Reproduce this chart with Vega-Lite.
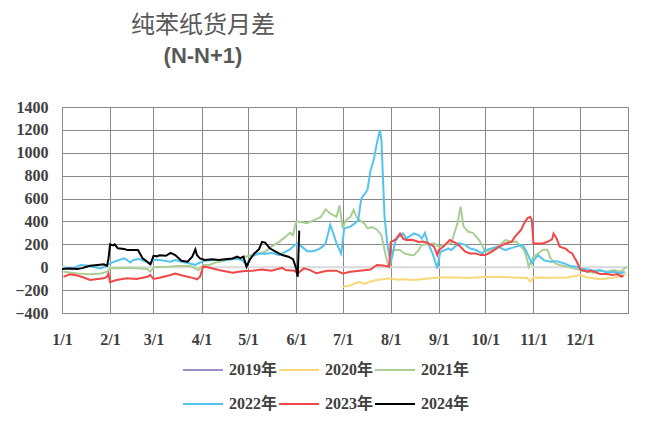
{
  "$schema": "https://vega.github.io/schema/vega-lite/v6.json",
  "width": 566,
  "height": 206,
  "autosize": "none",
  "padding": {"left": 62, "top": 107, "right": 22, "bottom": 113},
  "background": "white",
  "title": {
    "text": "纯苯纸货月差",
    "subtitle": "(N-N+1)",
    "anchor": "middle",
    "frame": "group",
    "dx": -142,
    "offset": 32,
    "font": "Noto Sans CJK SC",
    "fontSize": 24,
    "fontWeight": "normal",
    "color": "#595959",
    "subtitleFont": "Liberation Sans",
    "subtitleFontSize": 22,
    "subtitleFontWeight": "bold",
    "subtitleColor": "#595959",
    "subtitlePadding": 8
  },
  "config": {
    "view": {"stroke": "#898989", "strokeWidth": 1},
    "axis": {
      "grid": true,
      "gridColor": "#898989",
      "gridWidth": 1,
      "gridOpacity": 1,
      "ticks": false,
      "domain": false,
      "labelFont": "Liberation Serif",
      "labelFontWeight": "bold",
      "labelFontSize": 16,
      "labelColor": "#404040",
      "labelFlush": false,
      "labelOverlap": false,
      "title": null
    }
  },
  "layer": [
    {
      "data": {"values": [{"zero": 0}]},
      "mark": {"type": "rule", "color": "#d9d9d9", "strokeWidth": 2},
      "encoding": {
        "y": {
          "field": "zero",
          "type": "quantitative",
          "scale": {"domain": [-400, 1400], "nice": false, "zero": false},
          "axis": {
            "values": [-400, -200, 0, 200, 400, 600, 800, 1000, 1200, 1400],
            "format": "d",
            "labelOverlap": false,
            "labelPadding": 14
          }
        }
      }
    },
    {
      "data": {
        "values": [
          {"series": "2020年", "date": "2023-07-01", "value": -170},
          {"series": "2020年", "date": "2023-07-06", "value": -160},
          {"series": "2020年", "date": "2023-07-09", "value": -140},
          {"series": "2020年", "date": "2023-07-12", "value": -130},
          {"series": "2020年", "date": "2023-07-15", "value": -145},
          {"series": "2020年", "date": "2023-07-19", "value": -125},
          {"series": "2020年", "date": "2023-07-23", "value": -112},
          {"series": "2020年", "date": "2023-07-27", "value": -105},
          {"series": "2020年", "date": "2023-08-01", "value": -97},
          {"series": "2020年", "date": "2023-08-05", "value": -110},
          {"series": "2020年", "date": "2023-08-09", "value": -105},
          {"series": "2020年", "date": "2023-08-16", "value": -112},
          {"series": "2020年", "date": "2023-08-24", "value": -100},
          {"series": "2020年", "date": "2023-09-01", "value": -90},
          {"series": "2020年", "date": "2023-09-08", "value": -88},
          {"series": "2020年", "date": "2023-09-19", "value": -95},
          {"series": "2020年", "date": "2023-10-01", "value": -85},
          {"series": "2020年", "date": "2023-10-10", "value": -83},
          {"series": "2020年", "date": "2023-10-19", "value": -90},
          {"series": "2020年", "date": "2023-10-28", "value": -95},
          {"series": "2020年", "date": "2023-10-30", "value": -126},
          {"series": "2020年", "date": "2023-11-01", "value": -90},
          {"series": "2020年", "date": "2023-11-12", "value": -92},
          {"series": "2020年", "date": "2023-11-23", "value": -90},
          {"series": "2020年", "date": "2023-12-01", "value": -68},
          {"series": "2020年", "date": "2023-12-06", "value": -90},
          {"series": "2020年", "date": "2023-12-14", "value": -106},
          {"series": "2020年", "date": "2023-12-23", "value": -90},
          {"series": "2020年", "date": "2023-12-31", "value": -60},

          {"series": "2021年", "date": "2023-01-02", "value": -40},
          {"series": "2021年", "date": "2023-01-11", "value": -55},
          {"series": "2021年", "date": "2023-01-19", "value": -62},
          {"series": "2021年", "date": "2023-01-26", "value": -55},
          {"series": "2021年", "date": "2023-01-30", "value": -40},
          {"series": "2021年", "date": "2023-02-01", "value": -10},
          {"series": "2021年", "date": "2023-02-05", "value": -10},
          {"series": "2021年", "date": "2023-02-12", "value": -5},
          {"series": "2021年", "date": "2023-02-18", "value": -10},
          {"series": "2021年", "date": "2023-02-25", "value": -15},
          {"series": "2021年", "date": "2023-02-27", "value": -40},
          {"series": "2021年", "date": "2023-03-01", "value": 0},
          {"series": "2021年", "date": "2023-03-10", "value": 5},
          {"series": "2021年", "date": "2023-03-18", "value": 10},
          {"series": "2021年", "date": "2023-03-25", "value": 10},
          {"series": "2021年", "date": "2023-03-30", "value": -25},
          {"series": "2021年", "date": "2023-04-02", "value": 20},
          {"series": "2021年", "date": "2023-04-06", "value": 20},
          {"series": "2021年", "date": "2023-04-10", "value": 40},
          {"series": "2021年", "date": "2023-04-18", "value": 63},
          {"series": "2021年", "date": "2023-04-25", "value": 77},
          {"series": "2021年", "date": "2023-04-29", "value": 92},
          {"series": "2021年", "date": "2023-05-04", "value": 106},
          {"series": "2021年", "date": "2023-05-12", "value": 135},
          {"series": "2021年", "date": "2023-05-16", "value": 180},
          {"series": "2021年", "date": "2023-05-21", "value": 222},
          {"series": "2021年", "date": "2023-05-25", "value": 265},
          {"series": "2021年", "date": "2023-05-28", "value": 300},
          {"series": "2021年", "date": "2023-05-30", "value": 280},
          {"series": "2021年", "date": "2023-06-01", "value": 400},
          {"series": "2021年", "date": "2023-06-04", "value": 395},
          {"series": "2021年", "date": "2023-06-08", "value": 385},
          {"series": "2021年", "date": "2023-06-12", "value": 410},
          {"series": "2021年", "date": "2023-06-17", "value": 440},
          {"series": "2021年", "date": "2023-06-20", "value": 505},
          {"series": "2021年", "date": "2023-06-23", "value": 470},
          {"series": "2021年", "date": "2023-06-27", "value": 440},
          {"series": "2021年", "date": "2023-06-29", "value": 540},
          {"series": "2021年", "date": "2023-07-01", "value": 340},
          {"series": "2021年", "date": "2023-07-03", "value": 410},
          {"series": "2021年", "date": "2023-07-06", "value": 440},
          {"series": "2021年", "date": "2023-07-08", "value": 500},
          {"series": "2021年", "date": "2023-07-10", "value": 440},
          {"series": "2021年", "date": "2023-07-12", "value": 410},
          {"series": "2021年", "date": "2023-07-15", "value": 380},
          {"series": "2021年", "date": "2023-07-17", "value": 340},
          {"series": "2021年", "date": "2023-07-20", "value": 350},
          {"series": "2021年", "date": "2023-07-23", "value": 330},
          {"series": "2021年", "date": "2023-07-26", "value": 280},
          {"series": "2021年", "date": "2023-07-28", "value": 150},
          {"series": "2021年", "date": "2023-07-30", "value": 33},
          {"series": "2021年", "date": "2023-07-31", "value": 5},
          {"series": "2021年", "date": "2023-08-03", "value": 150},
          {"series": "2021年", "date": "2023-08-07", "value": 150},
          {"series": "2021年", "date": "2023-08-10", "value": 120},
          {"series": "2021年", "date": "2023-08-14", "value": 106},
          {"series": "2021年", "date": "2023-08-16", "value": 105},
          {"series": "2021年", "date": "2023-08-19", "value": 150},
          {"series": "2021年", "date": "2023-08-21", "value": 195},
          {"series": "2021年", "date": "2023-08-25", "value": 200},
          {"series": "2021年", "date": "2023-08-29", "value": 210},
          {"series": "2021年", "date": "2023-09-01", "value": 180},
          {"series": "2021年", "date": "2023-09-05", "value": 200},
          {"series": "2021年", "date": "2023-09-09", "value": 210},
          {"series": "2021年", "date": "2023-09-13", "value": 383},
          {"series": "2021年", "date": "2023-09-15", "value": 530},
          {"series": "2021年", "date": "2023-09-17", "value": 355},
          {"series": "2021年", "date": "2023-09-20", "value": 310},
          {"series": "2021年", "date": "2023-09-23", "value": 300},
          {"series": "2021年", "date": "2023-09-27", "value": 237},
          {"series": "2021年", "date": "2023-10-01", "value": 135},
          {"series": "2021年", "date": "2023-10-05", "value": 150},
          {"series": "2021年", "date": "2023-10-09", "value": 180},
          {"series": "2021年", "date": "2023-10-14", "value": 237},
          {"series": "2021年", "date": "2023-10-18", "value": 222},
          {"series": "2021年", "date": "2023-10-21", "value": 225},
          {"series": "2021年", "date": "2023-10-26", "value": 150},
          {"series": "2021年", "date": "2023-10-28", "value": 63},
          {"series": "2021年", "date": "2023-10-29", "value": 5},
          {"series": "2021年", "date": "2023-11-01", "value": 92},
          {"series": "2021年", "date": "2023-11-04", "value": 120},
          {"series": "2021年", "date": "2023-11-07", "value": 150},
          {"series": "2021年", "date": "2023-11-10", "value": 155},
          {"series": "2021年", "date": "2023-11-12", "value": 78},
          {"series": "2021年", "date": "2023-11-15", "value": 33},
          {"series": "2021年", "date": "2023-11-18", "value": 20},
          {"series": "2021年", "date": "2023-11-23", "value": 5},
          {"series": "2021年", "date": "2023-11-27", "value": -10},
          {"series": "2021年", "date": "2023-12-01", "value": -25},
          {"series": "2021年", "date": "2023-12-06", "value": -39},
          {"series": "2021年", "date": "2023-12-10", "value": -48},
          {"series": "2021年", "date": "2023-12-14", "value": -30},
          {"series": "2021年", "date": "2023-12-18", "value": -39},
          {"series": "2021年", "date": "2023-12-23", "value": -25},
          {"series": "2021年", "date": "2023-12-27", "value": -39},
          {"series": "2021年", "date": "2023-12-30", "value": -10},
          {"series": "2021年", "date": "2023-12-31", "value": 5},

          {"series": "2022年", "date": "2023-01-02", "value": -5},
          {"series": "2022年", "date": "2023-01-08", "value": -10},
          {"series": "2022年", "date": "2023-01-13", "value": 20},
          {"series": "2022年", "date": "2023-01-17", "value": 15},
          {"series": "2022年", "date": "2023-01-21", "value": 5},
          {"series": "2022年", "date": "2023-01-26", "value": -10},
          {"series": "2022年", "date": "2023-01-30", "value": 15},
          {"series": "2022年", "date": "2023-02-01", "value": 33},
          {"series": "2022年", "date": "2023-02-05", "value": 55},
          {"series": "2022年", "date": "2023-02-10", "value": 77},
          {"series": "2022年", "date": "2023-02-12", "value": 63},
          {"series": "2022年", "date": "2023-02-14", "value": 42},
          {"series": "2022年", "date": "2023-02-16", "value": 63},
          {"series": "2022年", "date": "2023-02-20", "value": 72},
          {"series": "2022年", "date": "2023-02-25", "value": 42},
          {"series": "2022年", "date": "2023-02-27", "value": 25},
          {"series": "2022年", "date": "2023-03-01", "value": 63},
          {"series": "2022年", "date": "2023-03-05", "value": 63},
          {"series": "2022年", "date": "2023-03-12", "value": 48},
          {"series": "2022年", "date": "2023-03-15", "value": 63},
          {"series": "2022年", "date": "2023-03-19", "value": 48},
          {"series": "2022年", "date": "2023-03-24", "value": 35},
          {"series": "2022年", "date": "2023-03-28", "value": 20},
          {"series": "2022年", "date": "2023-03-30", "value": 35},
          {"series": "2022年", "date": "2023-04-03", "value": 57},
          {"series": "2022年", "date": "2023-04-10", "value": 63},
          {"series": "2022年", "date": "2023-04-16", "value": 63},
          {"series": "2022年", "date": "2023-04-23", "value": 77},
          {"series": "2022年", "date": "2023-04-27", "value": 63},
          {"series": "2022年", "date": "2023-04-30", "value": 20},
          {"series": "2022年", "date": "2023-05-03", "value": 92},
          {"series": "2022年", "date": "2023-05-08", "value": 120},
          {"series": "2022年", "date": "2023-05-12", "value": 115},
          {"series": "2022年", "date": "2023-05-16", "value": 127},
          {"series": "2022年", "date": "2023-05-21", "value": 106},
          {"series": "2022年", "date": "2023-05-25", "value": 135},
          {"series": "2022年", "date": "2023-05-28", "value": 156},
          {"series": "2022年", "date": "2023-05-31", "value": 194},
          {"series": "2022年", "date": "2023-06-02", "value": 205},
          {"series": "2022年", "date": "2023-06-06", "value": 165},
          {"series": "2022年", "date": "2023-06-08", "value": 140},
          {"series": "2022年", "date": "2023-06-12", "value": 140},
          {"series": "2022年", "date": "2023-06-15", "value": 155},
          {"series": "2022年", "date": "2023-06-18", "value": 180},
          {"series": "2022年", "date": "2023-06-20", "value": 210},
          {"series": "2022年", "date": "2023-06-23", "value": 370},
          {"series": "2022年", "date": "2023-06-25", "value": 295},
          {"series": "2022年", "date": "2023-06-27", "value": 210},
          {"series": "2022年", "date": "2023-06-30", "value": 120},
          {"series": "2022年", "date": "2023-07-02", "value": 340},
          {"series": "2022年", "date": "2023-07-06", "value": 355},
          {"series": "2022年", "date": "2023-07-09", "value": 385},
          {"series": "2022年", "date": "2023-07-11", "value": 410},
          {"series": "2022年", "date": "2023-07-13", "value": 600},
          {"series": "2022年", "date": "2023-07-17", "value": 675},
          {"series": "2022年", "date": "2023-07-19", "value": 850},
          {"series": "2022年", "date": "2023-07-21", "value": 935},
          {"series": "2022年", "date": "2023-07-23", "value": 1080},
          {"series": "2022年", "date": "2023-07-25", "value": 1200},
          {"series": "2022年", "date": "2023-07-26", "value": 1110},
          {"series": "2022年", "date": "2023-07-28", "value": 440},
          {"series": "2022年", "date": "2023-07-30", "value": 180},
          {"series": "2022年", "date": "2023-08-01", "value": 40},
          {"series": "2022年", "date": "2023-08-04", "value": 230},
          {"series": "2022年", "date": "2023-08-06", "value": 265},
          {"series": "2022年", "date": "2023-08-09", "value": 295},
          {"series": "2022年", "date": "2023-08-11", "value": 250},
          {"series": "2022年", "date": "2023-08-16", "value": 295},
          {"series": "2022年", "date": "2023-08-19", "value": 280},
          {"series": "2022年", "date": "2023-08-21", "value": 250},
          {"series": "2022年", "date": "2023-08-23", "value": 300},
          {"series": "2022年", "date": "2023-08-25", "value": 210},
          {"series": "2022年", "date": "2023-08-28", "value": 120},
          {"series": "2022年", "date": "2023-08-30", "value": 33},
          {"series": "2022年", "date": "2023-08-31", "value": -10},
          {"series": "2022年", "date": "2023-09-02", "value": 135},
          {"series": "2022年", "date": "2023-09-05", "value": 150},
          {"series": "2022年", "date": "2023-09-07", "value": 165},
          {"series": "2022年", "date": "2023-09-09", "value": 150},
          {"series": "2022年", "date": "2023-09-14", "value": 210},
          {"series": "2022年", "date": "2023-09-18", "value": 195},
          {"series": "2022年", "date": "2023-09-21", "value": 165},
          {"series": "2022年", "date": "2023-09-25", "value": 150},
          {"series": "2022年", "date": "2023-09-29", "value": 120},
          {"series": "2022年", "date": "2023-10-01", "value": 150},
          {"series": "2022年", "date": "2023-10-05", "value": 165},
          {"series": "2022年", "date": "2023-10-09", "value": 180},
          {"series": "2022年", "date": "2023-10-14", "value": 150},
          {"series": "2022年", "date": "2023-10-17", "value": 165},
          {"series": "2022年", "date": "2023-10-21", "value": 180},
          {"series": "2022年", "date": "2023-10-25", "value": 195},
          {"series": "2022年", "date": "2023-10-27", "value": 150},
          {"series": "2022年", "date": "2023-10-29", "value": 92},
          {"series": "2022年", "date": "2023-10-31", "value": 33},
          {"series": "2022年", "date": "2023-11-02", "value": 75},
          {"series": "2022年", "date": "2023-11-04", "value": 105},
          {"series": "2022年", "date": "2023-11-08", "value": 60},
          {"series": "2022年", "date": "2023-11-12", "value": 48},
          {"series": "2022年", "date": "2023-11-16", "value": 53},
          {"series": "2022年", "date": "2023-11-21", "value": 33},
          {"series": "2022年", "date": "2023-11-25", "value": 10},
          {"series": "2022年", "date": "2023-11-29", "value": 5},
          {"series": "2022年", "date": "2023-12-01", "value": -10},
          {"series": "2022年", "date": "2023-12-06", "value": -20},
          {"series": "2022年", "date": "2023-12-10", "value": -30},
          {"series": "2022年", "date": "2023-12-14", "value": -25},
          {"series": "2022年", "date": "2023-12-19", "value": -48},
          {"series": "2022年", "date": "2023-12-23", "value": -40},
          {"series": "2022年", "date": "2023-12-27", "value": -55},
          {"series": "2022年", "date": "2023-12-30", "value": -40},

          {"series": "2023年", "date": "2023-01-02", "value": -83},
          {"series": "2023年", "date": "2023-01-06", "value": -62},
          {"series": "2023年", "date": "2023-01-11", "value": -73},
          {"series": "2023年", "date": "2023-01-15", "value": -90},
          {"series": "2023年", "date": "2023-01-19", "value": -112},
          {"series": "2023年", "date": "2023-01-24", "value": -103},
          {"series": "2023年", "date": "2023-01-28", "value": -97},
          {"series": "2023年", "date": "2023-01-30", "value": -83},
          {"series": "2023年", "date": "2023-01-31", "value": -55},
          {"series": "2023年", "date": "2023-02-01", "value": -130},
          {"series": "2023年", "date": "2023-02-05", "value": -112},
          {"series": "2023年", "date": "2023-02-12", "value": -97},
          {"series": "2023年", "date": "2023-02-18", "value": -103},
          {"series": "2023年", "date": "2023-02-25", "value": -83},
          {"series": "2023年", "date": "2023-02-27", "value": -68},
          {"series": "2023年", "date": "2023-03-01", "value": -103},
          {"series": "2023年", "date": "2023-03-05", "value": -92},
          {"series": "2023年", "date": "2023-03-12", "value": -68},
          {"series": "2023年", "date": "2023-03-15", "value": -55},
          {"series": "2023年", "date": "2023-03-19", "value": -70},
          {"series": "2023年", "date": "2023-03-23", "value": -83},
          {"series": "2023年", "date": "2023-03-27", "value": -95},
          {"series": "2023年", "date": "2023-03-29", "value": -106},
          {"series": "2023年", "date": "2023-03-31", "value": -83},
          {"series": "2023年", "date": "2023-04-02", "value": 5},
          {"series": "2023年", "date": "2023-04-05", "value": 0},
          {"series": "2023年", "date": "2023-04-12", "value": -25},
          {"series": "2023年", "date": "2023-04-21", "value": -48},
          {"series": "2023年", "date": "2023-04-25", "value": -40},
          {"series": "2023年", "date": "2023-04-29", "value": -33},
          {"series": "2023年", "date": "2023-05-04", "value": -30},
          {"series": "2023年", "date": "2023-05-10", "value": -20},
          {"series": "2023年", "date": "2023-05-16", "value": -30},
          {"series": "2023年", "date": "2023-05-23", "value": -5},
          {"series": "2023年", "date": "2023-05-25", "value": -25},
          {"series": "2023年", "date": "2023-05-31", "value": -30},
          {"series": "2023年", "date": "2023-06-02", "value": -55},
          {"series": "2023年", "date": "2023-06-06", "value": -10},
          {"series": "2023年", "date": "2023-06-10", "value": -25},
          {"series": "2023年", "date": "2023-06-14", "value": -53},
          {"series": "2023年", "date": "2023-06-21", "value": -30},
          {"series": "2023年", "date": "2023-06-27", "value": -30},
          {"series": "2023年", "date": "2023-07-01", "value": -55},
          {"series": "2023年", "date": "2023-07-06", "value": -40},
          {"series": "2023年", "date": "2023-07-12", "value": -30},
          {"series": "2023年", "date": "2023-07-19", "value": -20},
          {"series": "2023年", "date": "2023-07-23", "value": 20},
          {"series": "2023年", "date": "2023-07-27", "value": 15},
          {"series": "2023年", "date": "2023-07-31", "value": 5},
          {"series": "2023年", "date": "2023-08-01", "value": 220},
          {"series": "2023年", "date": "2023-08-04", "value": 240},
          {"series": "2023年", "date": "2023-08-07", "value": 295},
          {"series": "2023年", "date": "2023-08-09", "value": 250},
          {"series": "2023年", "date": "2023-08-11", "value": 237},
          {"series": "2023年", "date": "2023-08-15", "value": 240},
          {"series": "2023年", "date": "2023-08-19", "value": 220},
          {"series": "2023年", "date": "2023-08-22", "value": 225},
          {"series": "2023年", "date": "2023-08-25", "value": 210},
          {"series": "2023年", "date": "2023-08-29", "value": 180},
          {"series": "2023年", "date": "2023-08-31", "value": 106},
          {"series": "2023年", "date": "2023-09-01", "value": 150},
          {"series": "2023年", "date": "2023-09-04", "value": 180},
          {"series": "2023年", "date": "2023-09-08", "value": 237},
          {"series": "2023年", "date": "2023-09-12", "value": 210},
          {"series": "2023年", "date": "2023-09-15", "value": 180},
          {"series": "2023年", "date": "2023-09-18", "value": 135},
          {"series": "2023年", "date": "2023-09-21", "value": 120},
          {"series": "2023年", "date": "2023-09-25", "value": 120},
          {"series": "2023年", "date": "2023-09-28", "value": 106},
          {"series": "2023年", "date": "2023-10-01", "value": 106},
          {"series": "2023年", "date": "2023-10-05", "value": 135},
          {"series": "2023年", "date": "2023-10-10", "value": 180},
          {"series": "2023年", "date": "2023-10-14", "value": 208},
          {"series": "2023年", "date": "2023-10-18", "value": 222},
          {"series": "2023年", "date": "2023-10-20", "value": 265},
          {"series": "2023年", "date": "2023-10-24", "value": 325},
          {"series": "2023年", "date": "2023-10-26", "value": 383},
          {"series": "2023年", "date": "2023-10-28", "value": 427},
          {"series": "2023年", "date": "2023-10-30", "value": 440},
          {"series": "2023年", "date": "2023-10-31", "value": 410},
          {"series": "2023年", "date": "2023-11-01", "value": 208},
          {"series": "2023年", "date": "2023-11-07", "value": 208},
          {"series": "2023年", "date": "2023-11-10", "value": 222},
          {"series": "2023年", "date": "2023-11-13", "value": 243},
          {"series": "2023年", "date": "2023-11-14", "value": 295},
          {"series": "2023年", "date": "2023-11-16", "value": 250},
          {"series": "2023年", "date": "2023-11-18", "value": 180},
          {"series": "2023年", "date": "2023-11-22", "value": 160},
          {"series": "2023年", "date": "2023-11-24", "value": 135},
          {"series": "2023年", "date": "2023-11-26", "value": 120},
          {"series": "2023年", "date": "2023-11-29", "value": 48},
          {"series": "2023年", "date": "2023-12-01", "value": -10},
          {"series": "2023年", "date": "2023-12-02", "value": -25},
          {"series": "2023年", "date": "2023-12-06", "value": -39},
          {"series": "2023年", "date": "2023-12-08", "value": -30},
          {"series": "2023年", "date": "2023-12-12", "value": -48},
          {"series": "2023年", "date": "2023-12-14", "value": -60},
          {"series": "2023年", "date": "2023-12-18", "value": -60},
          {"series": "2023年", "date": "2023-12-22", "value": -68},
          {"series": "2023年", "date": "2023-12-25", "value": -60},
          {"series": "2023年", "date": "2023-12-28", "value": -83},
          {"series": "2023年", "date": "2023-12-29", "value": -70},

          {"series": "2024年", "date": "2023-01-01", "value": -15},
          {"series": "2024年", "date": "2023-01-06", "value": -12},
          {"series": "2024年", "date": "2023-01-11", "value": -15},
          {"series": "2024年", "date": "2023-01-14", "value": -8},
          {"series": "2024年", "date": "2023-01-19", "value": 13},
          {"series": "2024年", "date": "2023-01-24", "value": 20},
          {"series": "2024年", "date": "2023-01-28", "value": 25},
          {"series": "2024年", "date": "2023-01-30", "value": 12},
          {"series": "2024年", "date": "2023-01-31", "value": 77},
          {"series": "2024年", "date": "2023-02-01", "value": 200},
          {"series": "2024年", "date": "2023-02-03", "value": 190},
          {"series": "2024年", "date": "2023-02-04", "value": 200},
          {"series": "2024年", "date": "2023-02-06", "value": 165},
          {"series": "2024年", "date": "2023-02-10", "value": 160},
          {"series": "2024年", "date": "2023-02-12", "value": 150},
          {"series": "2024年", "date": "2023-02-19", "value": 150},
          {"series": "2024年", "date": "2023-02-22", "value": 77},
          {"series": "2024年", "date": "2023-02-25", "value": 48},
          {"series": "2024年", "date": "2023-02-27", "value": 25},
          {"series": "2024年", "date": "2023-03-01", "value": 100},
          {"series": "2024年", "date": "2023-03-03", "value": 95},
          {"series": "2024年", "date": "2023-03-05", "value": 105},
          {"series": "2024年", "date": "2023-03-09", "value": 100},
          {"series": "2024年", "date": "2023-03-12", "value": 125},
          {"series": "2024年", "date": "2023-03-15", "value": 106},
          {"series": "2024年", "date": "2023-03-19", "value": 57},
          {"series": "2024年", "date": "2023-03-23", "value": 48},
          {"series": "2024年", "date": "2023-03-26", "value": 92},
          {"series": "2024年", "date": "2023-03-28", "value": 156},
          {"series": "2024年", "date": "2023-03-29", "value": 106},
          {"series": "2024年", "date": "2023-03-31", "value": 77},
          {"series": "2024年", "date": "2023-04-03", "value": 63},
          {"series": "2024年", "date": "2023-04-08", "value": 70},
          {"series": "2024年", "date": "2023-04-12", "value": 63},
          {"series": "2024年", "date": "2023-04-16", "value": 70},
          {"series": "2024年", "date": "2023-04-21", "value": 77},
          {"series": "2024年", "date": "2023-04-24", "value": 92},
          {"series": "2024年", "date": "2023-04-26", "value": 80},
          {"series": "2024年", "date": "2023-04-28", "value": 92},
          {"series": "2024年", "date": "2023-04-30", "value": 5},
          {"series": "2024年", "date": "2023-05-02", "value": 63},
          {"series": "2024年", "date": "2023-05-05", "value": 120},
          {"series": "2024年", "date": "2023-05-08", "value": 156},
          {"series": "2024年", "date": "2023-05-10", "value": 222},
          {"series": "2024年", "date": "2023-05-12", "value": 215},
          {"series": "2024年", "date": "2023-05-15", "value": 165},
          {"series": "2024年", "date": "2023-05-19", "value": 135},
          {"series": "2024年", "date": "2023-05-23", "value": 106},
          {"series": "2024年", "date": "2023-05-27", "value": 92},
          {"series": "2024年", "date": "2023-05-30", "value": 70},
          {"series": "2024年", "date": "2023-06-01", "value": -10},
          {"series": "2024年", "date": "2023-06-02", "value": -83},
          {"series": "2024年", "date": "2023-06-03", "value": 320}
        ]
      },
      "mark": {"type": "line", "interpolate": "linear"},
      "encoding": {
        "x": {
          "field": "date",
          "type": "temporal",
          "scale": {
            "type": "utc",
            "domain": [
              {"year": 2023, "month": 1, "date": 1, "utc": true},
              {"year": 2024, "month": 1, "date": 1, "utc": true}
            ]
          },
          "axis": {
            "values": [
              {"year": 2023, "month": 1, "date": 1, "utc": true},
              {"year": 2023, "month": 2, "date": 1, "utc": true},
              {"year": 2023, "month": 3, "date": 1, "utc": true},
              {"year": 2023, "month": 4, "date": 1, "utc": true},
              {"year": 2023, "month": 5, "date": 1, "utc": true},
              {"year": 2023, "month": 6, "date": 1, "utc": true},
              {"year": 2023, "month": 7, "date": 1, "utc": true},
              {"year": 2023, "month": 8, "date": 1, "utc": true},
              {"year": 2023, "month": 9, "date": 1, "utc": true},
              {"year": 2023, "month": 10, "date": 1, "utc": true},
              {"year": 2023, "month": 11, "date": 1, "utc": true},
              {"year": 2023, "month": 12, "date": 1, "utc": true}
            ],
            "format": "%-m/%-d",
            "labelOverlap": false,
            "labelPadding": 18
          }
        },
        "y": {
          "field": "value",
          "type": "quantitative",
          "scale": {"domain": [-400, 1400], "nice": false, "zero": false},
          "axis": {
            "values": [-400, -200, 0, 200, 400, 600, 800, 1000, 1200, 1400],
            "format": "d",
            "labelOverlap": false,
            "labelPadding": 14
          }
        },
        "color": {
          "field": "series",
          "type": "nominal",
          "scale": {
            "domain": ["2019年", "2020年", "2021年", "2022年", "2023年", "2024年"],
            "range": ["#a08cc8", "#f8d878", "#a9cf95", "#55c3ef", "#f04848", "#000000"]
          },
          "legend": {
            "orient": "none",
            "legendX": 120,
            "legendY": 242,
            "direction": "horizontal",
            "columns": 3,
            "title": null,
            "symbolType": "stroke",
            "symbolSize": 1600,
            "symbolStrokeWidth": 2.5,
            "labelFont": "Liberation Serif, Noto Sans CJK SC",
            "labelFontSize": 16,
            "labelFontWeight": "bold",
            "labelColor": "#404040",
            "labelOffset": 5,
            "columnPadding": -3,
            "rowPadding": 5
          }
        },
        "strokeWidth": {
          "field": "series",
          "type": "nominal",
          "scale": {
            "domain": ["2019年", "2020年", "2021年", "2022年", "2023年", "2024年"],
            "range": [2, 2, 2, 2, 2, 2.5]
          },
          "legend": null
        }
      }
    }
  ]
}
